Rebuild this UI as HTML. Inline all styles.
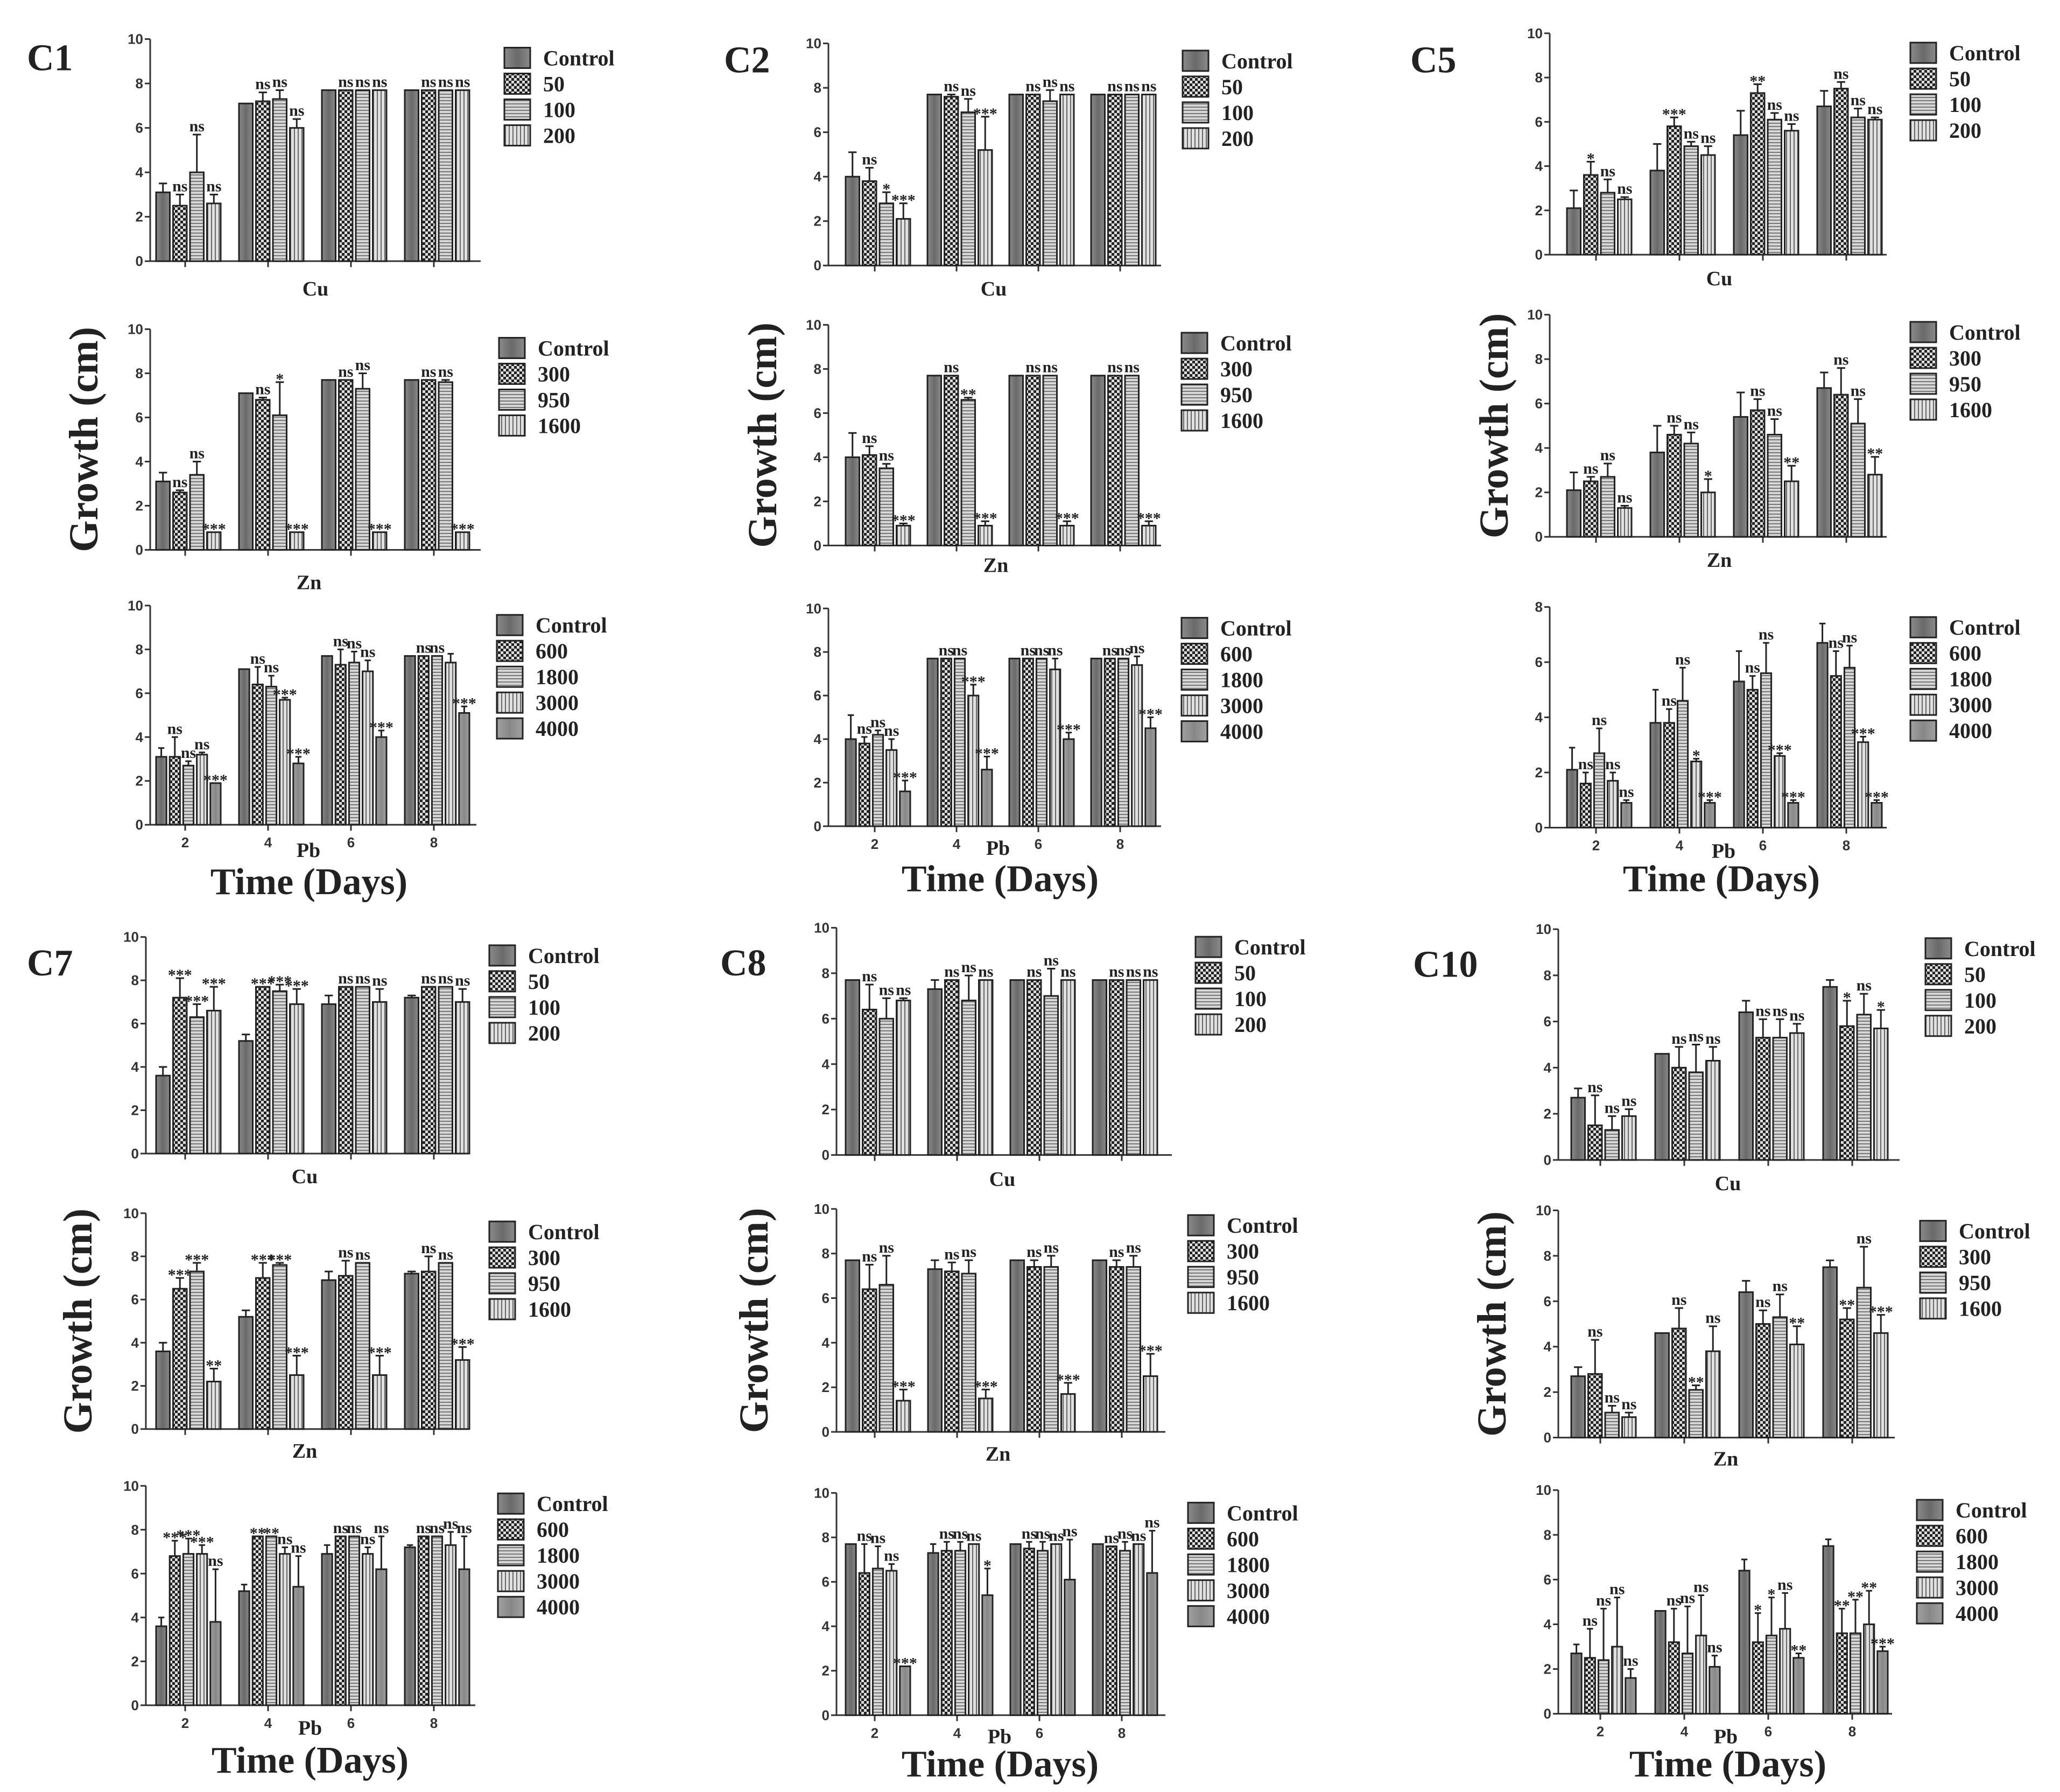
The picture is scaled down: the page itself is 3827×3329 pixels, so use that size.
<!DOCTYPE html>
<html><head><meta charset="utf-8">
<style>
html,body{margin:0;padding:0;background:#fff;}
svg{display:block;}
text{font-family:"Liberation Serif",serif;font-weight:bold;fill:#222;}
.tk{font-family:"Liberation Sans",sans-serif;font-size:26px;fill:#333;}
</style></head>
<body>
<svg id="fig" width="3827" height="3329" viewBox="0 0 3827 3329" xmlns="http://www.w3.org/2000/svg">
<defs>
<linearGradient id="gCtrl" x1="0" y1="0" x2="1" y2="0"><stop offset="0" stop-color="#8a8a8a"/><stop offset="0.5" stop-color="#6a6a6a"/><stop offset="1" stop-color="#8a8a8a"/></linearGradient>
<pattern id="pChk" width="10" height="10" patternUnits="userSpaceOnUse"><rect width="10" height="10" fill="#222"/><rect x="0" y="0" width="5" height="5" fill="#ddd"/><rect x="5" y="5" width="5" height="5" fill="#ddd"/></pattern>
<pattern id="pHor" width="6" height="6" patternUnits="userSpaceOnUse"><rect width="6" height="6" fill="#d6d6d6"/><rect y="0" width="6" height="2" fill="#777"/></pattern>
<pattern id="pVer" width="7" height="7" patternUnits="userSpaceOnUse"><rect width="7" height="7" fill="#e0e0e0"/><rect x="0" width="2" height="7" fill="#666"/></pattern>
<linearGradient id="gMid" x1="0" y1="0" x2="1" y2="0"><stop offset="0" stop-color="#a0a0a0"/><stop offset="0.5" stop-color="#888"/><stop offset="1" stop-color="#a0a0a0"/></linearGradient>
</defs>
</svg>
<script>
const days = ['2','4','6','8'];
const yTicks10 = [0,2,4,6,8,10];
const yTicks8 = [0,2,4,6,8];
const cuLegend = ['Control','50','100','200'];
const znLegend = ['Control','300','950','1600'];
const pbLegend = ['Control','600','1800','3000','4000'];

// C1
const c1CuVals=[[3.1,2.5,4.0,2.6],[7.1,7.2,7.3,6.0],[7.7,7.7,7.7,7.7],[7.7,7.7,7.7,7.7]];
const c1CuErr=[[0.4,0.5,1.7,0.4],[0,0.4,0.4,0.4],[0,0,0,0],[0,0,0,0]];
const c1CuSig=[['','ns','ns','ns'],['','ns','ns','ns'],['','ns','ns','ns'],['','ns','ns','ns']];
const c1ZnVals=[[3.1,2.6,3.4,0.8],[7.1,6.8,6.1,0.8],[7.7,7.7,7.3,0.8],[7.7,7.7,7.6,0.8]];
const c1ZnErr=[[0.4,0.1,0.6,0],[0,0.1,1.5,0],[0,0,0.7,0],[0,0,0.1,0]];
const c1ZnSig=[['','ns','ns','***'],['','ns','*','***'],['','ns','ns','***'],['','ns','ns','***']];
const c1PbVals=[[3.1,3.1,2.7,3.2,1.9],[7.1,6.4,6.3,5.7,2.8],[7.7,7.3,7.4,7.0,4.0],[7.7,7.7,7.7,7.4,5.1]];
const c1PbErr=[[0.4,0.9,0.2,0.1,0],[0,0.8,0.5,0.1,0.3],[0,0.7,0.5,0.5,0.3],[0,0,0,0.4,0.3]];
const c1PbSig=[['','ns','ns','ns','***'],['','ns','ns','***','***'],['','ns','ns','ns','***'],['','ns','ns','','***']];
// C2
const c2CuVals=[[4.0,3.8,2.8,2.1],[7.7,7.6,6.9,5.2],[7.7,7.7,7.4,7.7],[7.7,7.7,7.7,7.7]];
const c2CuErr=[[1.1,0.6,0.5,0.7],[0,0.1,0.6,1.5],[0,0,0.5,0],[0,0,0,0]];
const c2CuSig=[['','ns','*','***'],['','ns','ns','***'],['','ns','ns','ns'],['','ns','ns','ns']];
const c2ZnVals=[[4.0,4.1,3.5,0.9],[7.7,7.7,6.6,0.9],[7.7,7.7,7.7,0.9],[7.7,7.7,7.7,0.9]];
const c2ZnErr=[[1.1,0.4,0.2,0.1],[0,0,0.1,0.2],[0,0,0,0.2],[0,0,0,0.2]];
const c2ZnSig=[['','ns','ns','***'],['','ns','**','***'],['','ns','ns','***'],['','ns','ns','***']];
const c2PbVals=[[4.0,3.8,4.2,3.5,1.6],[7.7,7.7,7.7,6.0,2.6],[7.7,7.7,7.7,7.2,4.0],[7.7,7.7,7.7,7.4,4.5]];
const c2PbErr=[[1.1,0.3,0.2,0.5,0.5],[0,0,0,0.5,0.6],[0,0,0,0.5,0.3],[0,0,0,0.4,0.5]];
const c2PbSig=[['','ns','ns','ns','***'],['','ns','ns','***','***'],['','ns','ns','ns','***'],['','ns','ns','ns','***']];
// C5
const c5CuVals=[[2.1,3.6,2.8,2.5],[3.8,5.8,4.9,4.5],[5.4,7.3,6.1,5.6],[6.7,7.5,6.2,6.1]];
const c5CuErr=[[0.8,0.6,0.6,0.1],[1.2,0.4,0.2,0.4],[1.1,0.4,0.3,0.3],[0.7,0.3,0.4,0.1]];
const c5CuSig=[['','*','ns','ns'],['','***','ns','ns'],['','**','ns','ns'],['','ns','ns','ns']];
const c5ZnVals=[[2.1,2.5,2.7,1.3],[3.8,4.6,4.2,2.0],[5.4,5.7,4.6,2.5],[6.7,6.4,5.1,2.8]];
const c5ZnErr=[[0.8,0.2,0.6,0.1],[1.2,0.4,0.5,0.6],[1.1,0.5,0.7,0.7],[0.7,1.2,1.1,0.8]];
const c5ZnSig=[['','ns','ns','ns'],['','ns','ns','*'],['','ns','ns','**'],['','ns','ns','**']];
const c5PbVals=[[2.1,1.6,2.7,1.7,0.9],[3.8,3.8,4.6,2.4,0.9],[5.3,5.0,5.6,2.6,0.9],[6.7,5.5,5.8,3.1,0.9]];
const c5PbErr=[[0.8,0.4,0.9,0.3,0.1],[1.2,0.5,1.2,0.1,0.1],[1.1,0.5,1.1,0.1,0.1],[0.7,0.9,0.8,0.2,0.1]];
const c5PbSig=[['','ns','ns','ns','ns'],['','ns','ns','*','***'],['','ns','ns','***','***'],['','ns','ns','***','***']];
// C7
const c7CuVals=[[3.6,7.2,6.3,6.6],[5.2,7.7,7.5,6.9],[6.9,7.7,7.7,7.0],[7.2,7.7,7.7,7.0]];
const c7CuErr=[[0.4,0.9,0.6,1.1],[0.3,0,0.3,0.7],[0.4,0,0,0.6],[0.1,0,0,0.6]];
const c7CuSig=[['','***','***','***'],['','***','***','***'],['','ns','ns','ns'],['','ns','ns','ns']];
const c7ZnVals=[[3.6,6.5,7.3,2.2],[5.2,7.0,7.6,2.5],[6.9,7.1,7.7,2.5],[7.2,7.3,7.7,3.2]];
const c7ZnErr=[[0.4,0.5,0.4,0.6],[0.3,0.7,0.1,0.9],[0.4,0.7,0,0.9],[0.1,0.7,0,0.6]];
const c7ZnSig=[['','***','***','**'],['','***','***','***'],['','ns','ns','***'],['','ns','ns','***']];
const c7PbVals=[[3.6,6.8,6.9,6.9,3.8],[5.2,7.7,7.7,6.9,5.4],[6.9,7.7,7.7,6.9,6.2],[7.2,7.7,7.7,7.3,6.2]];
const c7PbErr=[[0.4,0.7,0.7,0.4,2.4],[0.3,0,0,0.3,1.4],[0.4,0,0,0.3,1.5],[0.1,0,0,0.6,1.5]];
const c7PbSig=[['','***','***','***','ns'],['','**','**','ns','ns'],['','ns','ns','ns','ns'],['','ns','ns','ns','ns']];
// C8
const c8CuVals=[[7.7,6.4,6.0,6.8],[7.3,7.7,6.8,7.7],[7.7,7.7,7.0,7.7],[7.7,7.7,7.7,7.7]];
const c8CuErr=[[0,1.1,0.9,0.1],[0.4,0,1.1,0],[0,0,1.2,0],[0,0,0,0]];
const c8CuSig=[['','ns','ns','ns'],['','ns','ns','ns'],['','ns','ns','ns'],['','ns','ns','ns']];
const c8ZnVals=[[7.7,6.4,6.6,1.4],[7.3,7.2,7.1,1.5],[7.7,7.4,7.4,1.7],[7.7,7.4,7.4,2.5]];
const c8ZnErr=[[0,1.1,1.3,0.5],[0.4,0.4,0.6,0.4],[0,0.3,0.5,0.5],[0,0.3,0.5,1.0]];
const c8ZnSig=[['','ns','ns','***'],['','ns','ns','***'],['','ns','ns','***'],['','ns','ns','***']];
const c8PbVals=[[7.7,6.4,6.6,6.5,2.2],[7.3,7.4,7.4,7.7,5.4],[7.7,7.5,7.4,7.7,6.1],[7.7,7.6,7.4,7.7,6.4]];
const c8PbErr=[[0,1.3,1.0,0.3,0],[0.4,0.4,0.4,0,1.2],[0,0.3,0.4,0,1.8],[0,0,0.4,0,1.9]];
const c8PbSig=[['','ns','ns','ns','***'],['','ns','ns','ns','*'],['','ns','ns','ns','ns'],['','ns','ns','ns','ns']];
// C10
const c10CuVals=[[2.7,1.5,1.3,1.9],[4.6,4.0,3.8,4.3],[6.4,5.3,5.3,5.5],[7.5,5.8,6.3,5.7]];
const c10CuErr=[[0.4,1.3,0.6,0.3],[0,0.9,1.2,0.6],[0.5,0.8,0.8,0.4],[0.3,1.1,0.9,0.8]];
const c10CuSig=[['','ns','ns','ns'],['','ns','ns','ns'],['','ns','ns','ns'],['','*','ns','*']];
const c10ZnVals=[[2.7,2.8,1.1,0.9],[4.6,4.8,2.1,3.8],[6.4,5.0,5.3,4.1],[7.5,5.2,6.6,4.6]];
const c10ZnErr=[[0.4,1.5,0.3,0.2],[0,0.9,0.2,1.1],[0.5,0.6,1.0,0.8],[0.3,0.5,1.8,0.8]];
const c10ZnSig=[['','ns','ns','ns'],['','ns','**','ns'],['','ns','ns','**'],['','**','ns','***']];
const c10PbVals=[[2.7,2.5,2.4,3.0,1.6],[4.6,3.2,2.7,3.5,2.1],[6.4,3.2,3.5,3.8,2.5],[7.5,3.6,3.6,4.0,2.8]];
const c10PbErr=[[0.4,1.3,2.3,2.2,0.4],[0,1.5,2.1,1.8,0.5],[0.5,1.3,1.7,1.6,0.2],[0.3,1.1,1.5,1.5,0.2]];
const c10PbSig=[['','ns','ns','ns','ns'],['','ns','ns','ns','ns'],['','*','*','ns','**'],['','**','**','**','***']];

const NS='http://www.w3.org/2000/svg';
const svg=document.getElementById('fig');
const fills=['url(#gCtrl)','url(#pChk)','url(#pHor)','url(#pVer)','url(#gMid)'];
function mk(tag,attrs,parent){const e=document.createElementNS(NS,tag);for(const k in attrs)e.setAttribute(k,attrs[k]);(parent||svg).appendChild(e);return e;}
function txt(s,x,y,size,anchor,parent,cls){const t=mk('text',{x:x,y:y,'font-size':size,'text-anchor':anchor||'middle'},parent);if(cls)t.setAttribute('class',cls);t.textContent=s;return t;}

const panels=[
 {id:'c1',row:0,title:'C1',tx:50,ty:97,gx:155,tmx:574,tmy:1230,off:65,sp:154,charts:[
  {m:'Cu',x0:279,x1:893,yT:54,yB:361,ymax:10,lx:937,ly:80,ml:[586,404],v:c1CuVals,e:c1CuErr,s:c1CuSig,leg:cuLegend},
  {m:'Zn',x0:279,x1:893,yT:455,yB:760,ymax:10,lx:927,ly:481,ml:[574,810],v:c1ZnVals,e:c1ZnErr,s:c1ZnSig,leg:znLegend},
  {m:'Pb',x0:279,x1:885,yT:837,yB:1140,ymax:10,lx:923,ly:864,ml:[573,1180],v:c1PbVals,e:c1PbErr,s:c1PbSig,leg:pbLegend}]},
 {id:'c2',row:0,title:'C2',tx:1345,ty:100,gx:1416,tmx:1858,tmy:1226,off:86,sp:152,charts:[
  {m:'Cu',x0:1539,x1:2157,yT:60,yB:367,ymax:10,lx:2197,ly:84,ml:[1846,404],v:c2CuVals,e:c2CuErr,s:c2CuSig,leg:cuLegend},
  {m:'Zn',x0:1539,x1:2157,yT:449,yB:754,ymax:10,lx:2195,ly:474,ml:[1850,786],v:c2ZnVals,e:c2ZnErr,s:c2ZnSig,leg:znLegend},
  {m:'Pb',x0:1539,x1:2157,yT:841,yB:1142,ymax:10,lx:2195,ly:868,ml:[1854,1177],v:c2PbVals,e:c2PbErr,s:c2PbSig,leg:pbLegend}]},
 {id:'c5',row:0,title:'C5',tx:2620,ty:100,gx:2775,tmx:3198,tmy:1226,off:86,sp:155,charts:[
  {m:'Cu',x0:2879,x1:3505,yT:46,yB:352,ymax:10,lx:3549,ly:73,ml:[3194,390],v:c5CuVals,e:c5CuErr,s:c5CuSig,leg:cuLegend},
  {m:'Zn',x0:2879,x1:3505,yT:435,yB:742,ymax:10,lx:3549,ly:459,ml:[3194,779],v:c5ZnVals,e:c5ZnErr,s:c5ZnSig,leg:znLegend},
  {m:'Pb',x0:2879,x1:3505,yT:839,yB:1144,ymax:8,lx:3549,ly:867,ml:[3202,1181],v:c5PbVals,e:c5PbErr,s:c5PbSig,leg:pbLegend}]},
 {id:'c7',row:1,title:'C7',tx:50,ty:1780,gx:144,tmx:576,tmy:2897,off:73,sp:154,charts:[
  {m:'Cu',x0:271,x1:869,yT:1726,yB:2031,ymax:10,lx:909,ly:1752,ml:[566,2068],v:c7CuVals,e:c7CuErr,s:c7CuSig,leg:cuLegend},
  {m:'Zn',x0:271,x1:869,yT:2115,yB:2419,ymax:10,lx:909,ly:2141,ml:[566,2455],v:c7ZnVals,e:c7ZnErr,s:c7ZnSig,leg:znLegend},
  {m:'Pb',x0:271,x1:883,yT:2499,yB:2808,ymax:10,lx:925,ly:2524,ml:[576,2845],v:c7PbVals,e:c7PbErr,s:c7PbSig,leg:pbLegend}]},
 {id:'c8',row:1,title:'C8',tx:1338,ty:1780,gx:1400,tmx:1858,tmy:2902,off:71,sp:153,charts:[
  {m:'Cu',x0:1554,x1:2177,yT:1713,yB:2033,ymax:10,lx:2221,ly:1740,ml:[1862,2072],v:c8CuVals,e:c8CuErr,s:c8CuSig,leg:cuLegend},
  {m:'Zn',x0:1554,x1:2165,yT:2109,yB:2423,ymax:10,lx:2207,ly:2132,ml:[1854,2459],v:c8ZnVals,e:c8ZnErr,s:c8ZnSig,leg:znLegend},
  {m:'Pb',x0:1554,x1:2165,yT:2509,yB:2822,ymax:10,lx:2207,ly:2537,ml:[1857,2857],v:c8PbVals,e:c8PbErr,s:c8PbSig,leg:pbLegend}]},
 {id:'c10',row:1,title:'C10',tx:2625,ty:1782,gx:2771,tmx:3210,tmy:2902,off:78,sp:156,charts:[
  {m:'Cu',x0:2895,x1:3529,yT:1715,yB:2040,ymax:10,lx:3577,ly:1742,ml:[3210,2078],v:c10CuVals,e:c10CuErr,s:c10CuSig,leg:cuLegend},
  {m:'Zn',x0:2895,x1:3520,yT:2111,yB:2431,ymax:10,lx:3567,ly:2140,ml:[3206,2466],v:c10ZnVals,e:c10ZnErr,s:c10ZnSig,leg:znLegend},
  {m:'Pb',x0:2895,x1:3515,yT:2505,yB:2820,ymax:10,lx:3561,ly:2533,ml:[3206,2857],v:c10PbVals,e:c10PbErr,s:c10PbSig,leg:pbLegend}]}
];

function Yf(row){return row===0?(y=>y*1.344):(y=>1680+(y-1680)*1.319);}

panels.forEach(p=>{
  const Y=Yf(p.row);
  const g=mk('g',{});
  
  
  const t=txt(p.title,p.tx,Y(p.ty),70,'start',g);
  
  
  const zc=p.charts[1];
  const gy=txt('Growth (cm)',0,0,76,'middle',g);
  gy.setAttribute('transform','translate('+(p.gx+26)+','+(Y(zc.yT)+Y(zc.yB))/2+') rotate(-90)');
  
  
  const tm=txt('Time (Days)',p.tmx,Y(p.tmy)+8,70,'middle',g);
  
  
  p.charts.forEach(c=>{
    const cg=mk('g',{},g);
    
    
    const yT=Y(c.yT), yB=Y(c.yB);
    const yS=v=>yB-(v/c.ymax)*(yB-yT);
    const xC=i=>c.x0+p.off+i*p.sp+6;
    const ticks=c.ymax===8?yTicks8:yTicks10;
    mk('line',{x1:c.x0,y1:yT,x2:c.x0,y2:yB,stroke:'#333','stroke-width':3},cg);
    mk('line',{x1:c.x0,y1:yB,x2:c.x1,y2:yB,stroke:'#333','stroke-width':3},cg);
    ticks.forEach(tv=>{
      mk('line',{x1:c.x0-10,y1:yS(tv),x2:c.x0,y2:yS(tv),stroke:'#333','stroke-width':3},cg);
      const tl=txt(String(tv),c.x0-13,yS(tv)+9,26,'end',cg,'tk');
      
      
    });
    days.forEach((d,i)=>{
      mk('line',{x1:xC(i)-6,y1:yB,x2:xC(i)-6,y2:yB+11,stroke:'#333','stroke-width':3},cg);
      if(c.m==='Pb'){
        const xl=txt(d,xC(i)-6,yB+42,28,'middle',cg,'tk');
        
        
      }
    });
    const ml=txt(c.m,c.ml[0],Y(c.ml[1])+6,38,'middle',cg);
    
    
    const n=c.v[0].length, gw=126, slot=gw/n, bw=slot-6;
    c.v.forEach((grp,i)=>{
      grp.forEach((val,j)=>{
        const bx=xC(i)-gw/2+j*slot+3;
        const by=yS(val);
        const r=mk('rect',{x:bx,y:by,width:bw,height:yB-by,fill:fills[j],stroke:'#222','stroke-width':3},cg);
        
        
        const ev=c.e[i][j];
        const cx=bx+bw/2;
        let top=by;
        if(ev>0){
          top=yS(val+ev);
          mk('line',{x1:cx,y1:by,x2:cx,y2:top,stroke:'#222','stroke-width':3},cg);
          mk('line',{x1:cx-bw*0.3,y1:top,x2:cx+bw*0.3,y2:top,stroke:'#222','stroke-width':3},cg);
        }
        const sg=c.s[i][j];
        if(sg){
          const st=txt(sg,cx,top-(sg.indexOf('*')>=0?-4:6),30,'middle',cg);
          st.setAttribute('fill','#444');
          
          
        }
      });
    });
    const lg=mk('g',{},cg);
    
    
    const ly=Y(c.ly);
    c.leg.forEach((lab,j)=>{
      const yy=ly+j*48;
      mk('rect',{x:c.lx,y:yy-19,width:48,height:38,fill:fills[j],stroke:'#222','stroke-width':3},lg);
      const lt=txt(lab,c.lx+72,yy+14,40,'start',lg);
      lt.setAttribute('fill','#333');
      
      
    });
  });
});
</script>
</body></html>
